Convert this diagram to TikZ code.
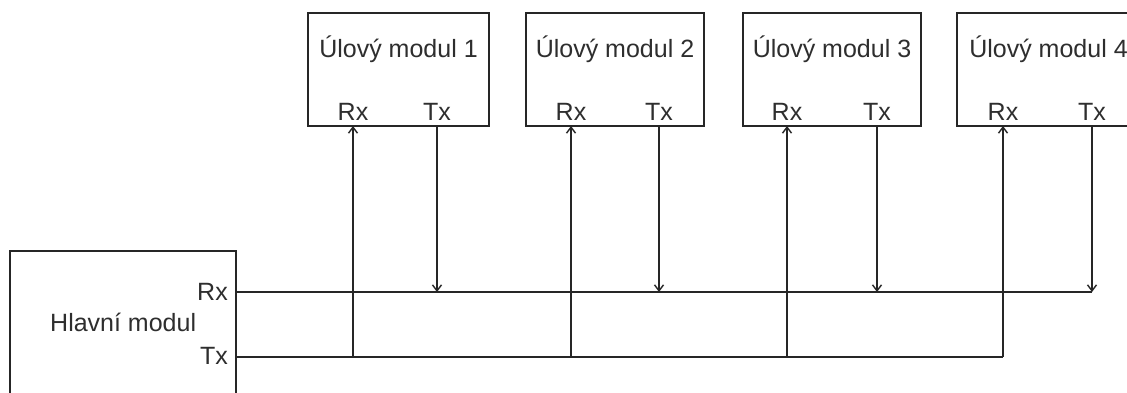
\documentclass[tikz,border=0pt]{standalone}
\usepackage{fontspec}
\setmainfont{Liberation Sans}
\usetikzlibrary{arrows.meta}
\begin{document}
\begin{tikzpicture}[x=1pt,y=-1pt,
  box/.style={draw=black!85,line width=1.6pt},
  lbl/.style={inner sep=0pt,font=\fontsize{25}{28}\selectfont,text=black!82},
  wire/.style={draw=black!85,line width=1.6pt},
  arr/.style={wire,-{Straight Barb[length=6pt,width=9pt,line width=1.4pt]}}]
\useasboundingbox (0,0) rectangle (1127,392);
\clip (0,0) rectangle (1127,392);
\fill[white] (0,0) rectangle (1127,392);
% main module
\draw[box] (10,251) rectangle (236,400);
\node[lbl,anchor=base west] (hm) at (50,331) {Hlavní modul};
\node[lbl,anchor=base east] (mrxl) at (228,300) {Rx};
\node[lbl,anchor=base east] (mtxl) at (228,364) {Tx};
\coordinate (mrx) at (236,292);
\coordinate (mtx) at (236,357);
% slave modules
\foreach \i/\l/\r/\rx/\tx in {1/308/489/353/437, 2/526/704/571/659, 3/743/921/787/877, 4/957/1140/1003/1092}{
  \draw[box] (\l,13) rectangle (\r,126);
  \node[lbl,anchor=base] (u\i) at ({(\l+\r)/2},57) {Úlový modul \i};
  \node[lbl,anchor=base] (u\i rx) at (\rx,120) {Rx};
  \node[lbl,anchor=base] (u\i tx) at (\tx,120) {Tx};
  \coordinate (b\i rx) at (\rx,126);
  \coordinate (b\i tx) at (\tx,126);
  \coordinate (j\i rx) at (\rx,357);
  \coordinate (j\i tx) at (\tx,292);
  \draw[arr] (j\i rx) -- (b\i rx);
  \draw[arr] (b\i tx) -- (j\i tx);
}
\draw[wire] (mrx) -- (j4tx);
\draw[wire] (mtx) -- (j4rx);
\end{tikzpicture}
\end{document}
